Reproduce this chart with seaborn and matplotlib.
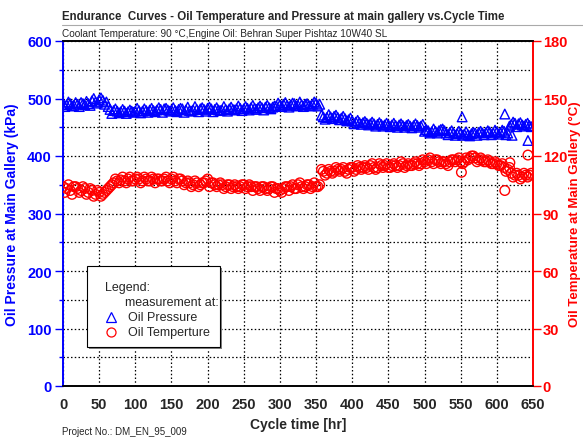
import matplotlib
matplotlib.use("Agg")
import matplotlib.pyplot as plt
import seaborn as sns
import pandas as pd
from matplotlib.patches import Rectangle
from matplotlib.lines import Line2D

sns.set_style("white")
plt.rcParams['font.family'] = ['Liberation Sans', 'DejaVu Sans']

# ---- data ----
hours = list(range(0, 650, 5))
pressure = [492, 489, 491, 488, 490, 493, 489, 491, 496, 494, 498, 497, 494,
            481, 479, 478, 477, 478, 477, 478, 478, 479, 478, 479, 480, 479, 480,
            481, 482, 480, 480, 479, 481, 482, 480, 479, 480, 481, 482, 481, 483,
            482, 481, 480, 480, 481, 482, 481, 482, 483, 482, 483, 484, 483, 484,
            484, 485, 484, 485,
            487, 489, 490, 488, 489, 491, 488, 489, 490, 488, 490, 492, 490,
            468, 467, 468, 469, 467, 466, 465, 463, 461, 459, 458, 458, 457, 456,
            456, 455, 455, 454, 454, 454, 453, 454, 453, 453, 452, 453, 453, 452,
            443, 444, 442, 443, 444, 447, 440, 441, 440, 439, 440, 438, 437, 439,
            440, 441, 440, 441, 442, 440, 442, 441, 443, 440,
            455, 457, 456, 454, 455, 453]
temperature = [104, 103, 102, 104, 103, 102, 103, 101, 102, 100, 101, 100, 102,
               104, 106, 107, 107.5, 107, 108, 107, 108, 108, 107, 108, 107, 108,
               108, 107, 108, 107, 108, 107, 108, 107, 106, 106, 105, 106, 105, 106,
               108, 106, 105, 105, 105, 104, 105, 104, 104, 104, 105, 104, 104, 104,
               103, 104, 103, 103, 104, 103, 102, 103, 104, 104, 103, 105, 104, 104,
               105, 104, 104, 105,
               112, 111, 112, 112, 113, 113, 112, 113, 114, 113, 114, 114, 114, 115,
               114, 114, 115, 115, 114, 115, 115, 115, 116, 115, 115, 116, 116, 116,
               117, 118, 117, 118, 117, 117, 116, 117, 118, 118, 117, 117, 118, 120,
               119, 118, 118, 117, 117, 116, 116, 115, 114, 113,
               111, 110, 110, 109, 110, 110]
# intermediate readings (half-way between the above)
hours_b = [h + 2.5 for h in hours]
pressure_b = [486, 494, 487, 493, 486, 491, 495, 488, 500, 492,
              501, 490, 486, 474, 482, 475, 481, 474, 480, 476,
              483, 475, 482, 476, 483, 477, 484, 476, 483, 478,
              484, 477, 483, 476, 485, 478, 486, 477, 484, 478,
              485, 477, 484, 479, 486, 478, 485, 480, 487, 479,
              486, 480, 488, 481, 487, 480, 488, 482, 487, 492,
              486, 493, 485, 492, 487, 494, 486, 491, 487, 494,
              487, 471, 464, 472, 465, 471, 463, 469, 461, 466,
              456, 462, 455, 460, 454, 459, 452, 458, 452, 457,
              451, 457, 450, 456, 450, 455, 449, 456, 450, 455,
              446, 440, 447, 440, 446, 444, 437, 444, 436, 443,
              436, 442, 435, 441, 436, 443, 437, 444, 437, 445,
              438, 445, 437, 452, 459, 451, 458, 452, 457, 451]
temperature_b = [101, 105, 100, 104, 101, 104, 100, 103, 99, 102,
                 99, 101, 103, 105, 108, 106, 109, 106, 109, 107,
                 109, 106, 109, 107, 109, 106, 108, 107, 109, 106,
                 109, 106, 108, 105, 107, 104, 107, 104, 106, 107,
                 104, 106, 104, 106, 103, 105, 103, 105, 103, 105,
                 103, 105, 102, 104, 102, 104, 102, 104, 101, 103,
                 101, 104, 102, 105, 103, 106, 103, 105, 103, 106,
                 104, 113, 110, 113, 111, 114, 112, 114, 111, 114,
                 112, 115, 113, 115, 113, 116, 113, 116, 114, 116,
                 114, 116, 114, 117, 114, 116, 115, 117, 115, 118,
                 116, 119, 116, 118, 116, 117, 115, 118, 117, 119,
                 116, 119, 119, 120, 117, 119, 117, 118, 116, 117,
                 115, 116, 112, 114, 109, 111, 108, 111, 109, 111]
# isolated readings
p_extra_hours = [552, 611, 621, 643]
p_extra = [468, 473, 436, 427]
t_extra_hours = [551, 611, 618, 643]
t_extra = [111.5, 102, 116.5, 120.5]

x_ticks = list(range(0, 651, 50))
p_ticks = list(range(0, 601, 100))
t_ticks = list(range(0, 181, 30))

dfp = pd.DataFrame({"hr": hours + hours_b + p_extra_hours,
                    "p": pressure + pressure_b + p_extra}).sort_values("hr")
dft = pd.DataFrame({"hr": hours + hours_b + t_extra_hours,
                    "t": temperature + temperature_b + t_extra}).sort_values("hr")

BLUE = '#0000ff'
RED = '#ff0000'

fig = plt.figure(figsize=(5.83, 4.39), dpi=100)
ax = fig.add_axes([63/583, 1-387/439, (533-63)/583, (387-42)/439])
ax2 = ax.twinx()

sns.scatterplot(data=dfp, x="hr", y="p", ax=ax, marker='^', s=48,
                facecolor='none', edgecolor=BLUE, linewidth=1.0, zorder=3)
sns.scatterplot(data=dft, x="hr", y="t", ax=ax2, marker='o', s=48,
                facecolor='none', edgecolor=RED, linewidth=1.0, zorder=3)

ax.set_xlim(0, 650)
ax.set_ylim(0, 600)
ax2.set_ylim(0, 180)

ax.set_xticks(x_ticks)
ax.set_xticks(range(25, 650, 50), minor=True)
ax.set_yticks(p_ticks)
ax.set_yticks(range(50, 600, 100), minor=True)
ax2.set_yticks(t_ticks)

ax.xaxis.grid(True, which='major', linestyle=(0, (1.2, 1.8)), color='black', linewidth=0.9)
ax.yaxis.grid(True, which='both', linestyle=(0, (1.2, 1.8)), color='black', linewidth=0.9)
ax.set_axisbelow(True)

ax.set_xticklabels([str(v) for v in x_ticks], fontweight='bold', fontsize=10.5)
ax.set_yticklabels([str(v) for v in p_ticks], fontweight='bold', fontsize=10.5, color=BLUE)
ax2.set_yticklabels([str(v) for v in t_ticks], fontweight='bold', fontsize=10.5, color=RED)

ax.tick_params(axis='x', which='major', direction='in', length=5, width=1, color='black', pad=8)
ax.tick_params(axis='x', which='minor', direction='in', length=3, width=1, color='black')
ax.tick_params(axis='y', which='major', direction='out', length=6, width=1, color=BLUE, pad=2)
ax.tick_params(axis='y', which='minor', direction='out', length=3, width=1, color=BLUE)
ax2.tick_params(axis='y', which='major', direction='out', length=6, width=1, color=RED, pad=1)

for a in (ax, ax2):
    a.spines['top'].set_color('black')
    a.spines['bottom'].set_color('black')
    a.spines['left'].set_color(BLUE)
    a.spines['right'].set_color(RED)
    for s in a.spines.values():
        s.set_linewidth(1.2)
        s.set_visible(True)

ax.set_xlabel('Cycle time [hr]', fontweight='bold', fontsize=10, labelpad=4)
ax.set_ylabel('Oil Pressure at Main Gallery (kPa)', fontweight='bold', fontsize=10,
              color=BLUE, labelpad=6)
ax2.set_ylabel('Oil Temperature at Main Gallery (°C)', fontweight='bold', fontsize=9.5,
               color=RED, labelpad=1)

# titles
fig.text(62/583, 1-17/439, 'Endurance  Curves - Oil Temperature and Pressure at main gallery vs.Cycle Time',
         fontweight='bold', fontsize=8.3, va='center', ha='left')
fig.add_artist(Line2D([62/583, 1.0], [1-26/439, 1-26/439], color='#aaaaaa', linewidth=0.8))
fig.text(62/583, 1-34/439, 'Coolant Temperature: 90 °C,Engine Oil: Behran Super Pishtaz 10W40 SL',
         fontsize=7.2, va='center', ha='left')
fig.text(62/583, 1-432/439, 'Project No.: DM_EN_95_009', fontsize=7, va='center', ha='left')

# legend box (with shadow)
bx0, by0, bx1, by1 = 87, 267, 220, 348
def fx(px):
    return px/583
def fy(py):
    return 1-py/439
fig.add_artist(Rectangle((fx(bx0+2), fy(by1+2)), fx(bx1)-fx(bx0), fy(by0)-fy(by1),
                         facecolor='#808080', edgecolor='none', zorder=5))
fig.add_artist(Rectangle((fx(bx0), fy(by1)), fx(bx1)-fx(bx0), fy(by0)-fy(by1),
                         facecolor='white', edgecolor='black', linewidth=0.8, zorder=6))
fig.text(fx(105), fy(288), 'Legend:', fontsize=9, va='center', ha='left', zorder=7)
fig.text(fx(125), fy(303), 'measurement at:', fontsize=9, va='center', ha='left', zorder=7)
fig.add_artist(Line2D([fx(111)], [fy(318)], marker='^', markersize=7, markerfacecolor='none',
                      markeredgecolor=BLUE, markeredgewidth=0.9, linestyle='none', zorder=7))
fig.text(fx(128), fy(318), 'Oil Pressure', fontsize=9, va='center', ha='left', zorder=7)
fig.add_artist(Line2D([fx(111)], [fy(333)], marker='o', markersize=6.5, markerfacecolor='none',
                      markeredgecolor=RED, markeredgewidth=0.9, linestyle='none', zorder=7))
fig.text(fx(128), fy(333), 'Oil Temperture', fontsize=9, va='center', ha='left', zorder=7)

fig.savefig('out.png', dpi=100)
